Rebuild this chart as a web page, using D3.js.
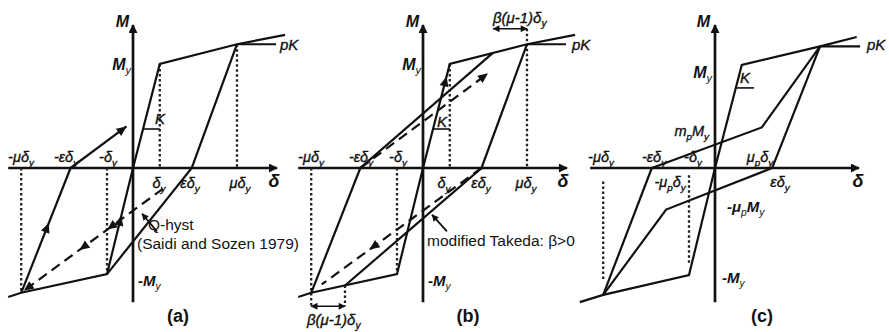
<!DOCTYPE html>
<html>
<head>
<meta charset="utf-8">
<script src="https://cdn.jsdelivr.net/npm/d3@7.9.0/dist/d3.min.js"></script>
<style>
  body { margin: 0; background: #fff; }
  svg { display: block; font-family: "Liberation Sans", Arial, sans-serif; }
</style>
</head>
<body>
<svg id="fig" width="889" height="332"></svg>
<script>
// every point is in units of δy (horizontal) and My (vertical)

// (a) Q-hyst
const aBackbone = [[-4.8, -1.24], [-4.3, -1.2], [-1, -1.02], [0, 0], [1.03, 1], [4, 1.19], [5.85, 1.28]];
const aUnload = [[4, 1.19], [2.26, 0], [-1, -1.02]];
const aUnloadNeg = [[-4.3, -1.2], [-2.4, 0]];
const aReload = [[-2.4, 0], [-0.25, 0.40]];
const aDashed = [[1.15, -0.2], [-4.2, -1.18]];
const aDotted = [[[1.03, 1], [1.03, 0]], [[4, 1.19], [4, 0]], [[-4.3, 0], [-4.3, -1.2]], [[-1, 0], [-1, -1.02]]];
const aPointer = [[0.92, -0.61], [0.35, -0.44]];

// (b) modified Takeda
const bBackbone = aBackbone;
const bUnload = [[4, 1.19], [2.25, 0], [-3.0, -1.13]];
const bUnloadNeg = [[-4.3, -1.2], [-2.41, 0], [2.7, 1.11]];
const bDashedUp = [[-2.41, 0], [2.5, 0.91]];
const bDashedDown = [[2.25, 0], [-3.9, -1.12]];
const bDotted = [[[1.03, 1], [1.03, 0]], [[4, 1.34], [4, 0]], [[-4.3, 0], [-4.3, -1.33]], [[-1, 0], [-1, -1.02]], [[-3.0, -1.13], [-3.0, -1.33]]];
const bSpanTop = [[2.7, 1.34], [4, 1.34]];
const bSpanBottom = [[-4.3, -1.33], [-3.0, -1.33]];
const bPointer = [[0.92, -0.61], [0.35, -0.45]];

// (c) pinched
const cBackbone = [[-5.2, -1.29], [-4.3, -1.22], [-1, -1.03], [0, 0], [1.03, 0.99], [4.04, 1.17], [5.45, 1.26]];
const cReload = [[-2.43, 0], [1.8, 0.39], [4.04, 1.17]];
const cUnload = [[4.04, 1.17], [2.2, 0], [-1.88, -0.40], [-4.3, -1.22]];
const cUnloadNeg = [[-4.3, -1.22], [-2.43, 0]];
const cDotted = [[[-4.3, -0.13], [-4.3, -1.09]], [[-1, -0.07], [-1, -0.91]]];

const kTickAB = [[0.39, 0.375], [1.03, 0.375]];
const kTickC = [[0.8, 0.77], [1.5, 0.77]];
const xAxisExtent = [-4.8, 5.54];
const yAxisExtent = [-1.29, 1.375];

const svg = d3.select('#fig');
const defs = svg.append('defs');
defs.append('marker').attr('id', 'axhead').attr('viewBox', '0 0 10 10')
  .attr('refX', 9).attr('refY', 5).attr('markerWidth', 12).attr('markerHeight', 9)
  .attr('markerUnits', 'userSpaceOnUse').attr('orient', 'auto')
  .append('path').attr('d', 'M0,0L10,5L0,10z').attr('fill', '#111');
defs.append('marker').attr('id', 'small').attr('viewBox', '0 0 10 10')
  .attr('refX', 9).attr('refY', 5).attr('markerWidth', 8).attr('markerHeight', 7)
  .attr('markerUnits', 'userSpaceOnUse').attr('orient', 'auto-start-reverse')
  .append('path').attr('d', 'M0,0L10,5L0,10z').attr('fill', '#111');

function makePanel(ox) {
  const g = svg.append('g');
  const x = d3.scaleLinear().domain([0, 1]).range([ox, ox + 26]);
  const y = d3.scaleLinear().domain([0, 1]).range([168, 64]);
  const line = d3.line().x(d => x(d[0])).y(d => y(d[1]));
  const P = { g, x, y, line, ox };

  // axes
  g.append('line').attr('x1', x(xAxisExtent[0])).attr('x2', x(xAxisExtent[1]))
    .attr('y1', y(0)).attr('y2', y(0)).attr('stroke', '#111').attr('stroke-width', 2.7)
    .attr('marker-end', 'url(#axhead)');
  g.append('line').attr('x1', x(0)).attr('x2', x(0))
    .attr('y1', y(yAxisExtent[0])).attr('y2', y(yAxisExtent[1])).attr('stroke', '#111').attr('stroke-width', 2.7)
    .attr('marker-end', 'url(#axhead)');
  return P;
}

function path(P, pts, style) {
  const p = P.g.append('path').attr('d', P.line(pts)).attr('fill', 'none')
    .attr('stroke', style === 'dot' ? '#222' : '#111')
    .attr('stroke-width', style === 'dot' ? 2.3 : 2.2);
  if (style === 'dash') p.attr('stroke-dasharray', '10,6');
  if (style === 'dot') p.attr('stroke-dasharray', '2.5,2.5');
  return p;
}

// filled arrowhead at fraction t along segment a->b
function arrowAt(P, a, b, t) {
  const x0 = P.x(a[0]), y0 = P.y(a[1]), x1 = P.x(b[0]), y1 = P.y(b[1]);
  const px = x0 + (x1 - x0) * t, py = y0 + (y1 - y0) * t;
  const ang = Math.atan2(y1 - y0, x1 - x0) * 180 / Math.PI;
  P.g.append('path').attr('d', 'M0,0L-10,-4.5L-10,4.5z').attr('fill', '#111')
    .attr('transform', `translate(${px},${py}) rotate(${ang})`);
}

const styles = {
  Mend: { size: 16, bold: true, italic: true, anchor: 'end' },
  Mstart: { size: 15, bold: true, italic: true, anchor: 'start' },
  sym: { size: 14.5, italic: true, anchor: 'middle', heavy: true },
  symS: { size: 15, italic: true, anchor: 'start', heavy: true },
  symE: { size: 14.5, italic: true, anchor: 'end', heavy: true },
  ax: { size: 18, bold: true, italic: true, anchor: 'middle' },
  txt: { size: 15.5, anchor: 'start' },
  cap: { size: 18, bold: true, anchor: 'middle' }
};

function label(P, s, dx, dy, key) {
  const o = styles[key];
  const t = P.g.append('text').attr('x', P.ox + dx).attr('y', 168 + dy)
    .attr('font-size', o.size).attr('fill', '#111')
    .attr('font-style', o.italic ? 'italic' : 'normal')
    .attr('font-weight', o.bold ? 'bold' : 'normal')
    .attr('text-anchor', o.anchor);
  if (o.heavy) t.attr('stroke', '#111').attr('stroke-width', 0.35);
  let sub = false;
  s.split(/(_.)/).filter(d => d).forEach(part => {
    if (part.length === 2 && part[0] === '_') {
      t.append('tspan').attr('font-size', o.size * 0.68).attr('font-weight', 'normal')
        .attr('dy', 4).text(part[1]);
      sub = true;
    } else {
      const ts = t.append('tspan').text(part);
      if (sub) { ts.attr('dy', -4); sub = false; }
    }
  });
}

// ---------- (a) ----------
const A = makePanel(133);
aDotted.forEach(d => path(A, d, 'dot'));
path(A, aBackbone, 'solid');
path(A, [aBackbone[5], [5.5, 1.19]], 'solid');
path(A, aUnload, 'solid');
path(A, aUnloadNeg, 'solid');
path(A, aReload, 'solid');
arrowAt(A, aReload[0], aReload[1], 1);
path(A, aDashed, 'dash');
arrowAt(A, aDashed[0], aDashed[1], 1);
arrowAt(A, aDashed[0], aDashed[1], 0.6);
arrowAt(A, aDashed[0], aDashed[1], 0.4);
arrowAt(A, aUnloadNeg[0], aUnloadNeg[1], 0.56);
arrowAt(A, aBackbone[2], aBackbone[3], 0.55);
path(A, kTickAB, 'solid').attr('stroke-width', 1.6);
path(A, aPointer, 'solid').attr('stroke-width', 1.8).attr('marker-end', 'url(#small)');
[
  ['M', -4, -141, 'Mend'], ['M_y', -2, -98, 'Mend'], ['pK', 147, -118, 'symS'], ['K', 22, -44, 'symS'],
  ['-μδ_y', -112, -6, 'sym'], ['-εδ_y', -67, -6, 'sym'], ['-δ_y', -25, -6, 'sym'],
  ['δ_y', 26, 20, 'sym'], ['εδ_y', 57, 20, 'sym'], ['μδ_y', 107, 20, 'sym'], ['δ', 141, 19, 'ax'],
  ['Q-hyst', 15, 62, 'txt'], ['(Saidi and Sozen 1979)', 4, 81, 'txt'],
  ['-M_y', 5, 118, 'Mstart'], ['(a)', 45, 154, 'cap']
].forEach(l => label(A, ...l));

// ---------- (b) ----------
const B = makePanel(423);
bDotted.forEach(d => path(B, d, 'dot'));
path(B, bBackbone, 'solid');
path(B, [bBackbone[5], [5.5, 1.19]], 'solid');
path(B, bUnload, 'solid');
path(B, bUnloadNeg, 'solid');
path(B, bDashedUp, 'dash');
arrowAt(B, bDashedUp[0], bDashedUp[1], 1);
path(B, bDashedDown, 'dash');
arrowAt(B, bDashedDown[0], bDashedDown[1], 0.7);
arrowAt(B, bBackbone[3], bBackbone[4], 0.88);
path(B, bSpanTop, 'solid').attr('stroke-width', 1.5).attr('marker-start', 'url(#small)').attr('marker-end', 'url(#small)');
path(B, bSpanBottom, 'solid').attr('stroke-width', 1.5).attr('marker-start', 'url(#small)').attr('marker-end', 'url(#small)');
path(B, kTickAB, 'solid').attr('stroke-width', 1.6);
path(B, bPointer, 'solid').attr('stroke-width', 1.8).attr('marker-end', 'url(#small)');
[
  ['M', -4, -141, 'Mend'], ['M_y', -2, -98, 'Mend'], ['pK', 149, -118, 'symS'], ['K', 14, -41, 'symS'],
  ['β(μ-1)δ_y', 70, -145, 'symS'],
  ['-μδ_y', -112, -6, 'sym'], ['-εδ_y', -62, -6, 'sym'], ['-δ_y', -25, -6, 'sym'],
  ['δ_y', 21, 20, 'sym'], ['εδ_y', 58, 20, 'sym'], ['μδ_y', 103, 20, 'sym'], ['δ', 140, 19, 'ax'],
  ['modified Takeda: β>0', 4, 78, 'txt'],
  ['-M_y', 5, 118, 'Mstart'], ['(b)', 45, 154, 'cap'],
  ['β(μ-1)δ_y', -116, 157, 'symS']
].forEach(l => label(B, ...l));

// ---------- (c) ----------
const C = makePanel(715);
cDotted.forEach(d => path(C, d, 'dot'));
path(C, cBackbone, 'solid');
path(C, [cBackbone[5], [5.58, 1.17]], 'solid');
path(C, cReload, 'solid');
path(C, cUnload, 'solid');
path(C, cUnloadNeg, 'solid');
path(C, kTickC, 'solid').attr('stroke-width', 1.6);
[
  ['M', -5, -141, 'Mend'], ['M_y', -3, -90, 'Mend'], ['pK', 152, -118, 'symS'], ['K', 25, -85, 'symS'],
  ['m_pM_y', -6, -32, 'symE'],
  ['-μδ_y', -114, -6, 'sym'], ['-εδ_y', -61, -6, 'sym'], ['-δ_y', -22, -6, 'sym'],
  ['μ_pδ_y', 45, -6, 'sym'], ['-μ_pδ_y', -45, 19, 'sym'], ['εδ_y', 65, 19, 'sym'], ['δ', 143, 19, 'ax'],
  ['-μ_pM_y', 12, 44, 'Mstart'], ['-M_y', 7, 115, 'Mstart'], ['(c)', 47, 154, 'cap']
].forEach(l => label(C, ...l));
</script>
</body>
</html>
